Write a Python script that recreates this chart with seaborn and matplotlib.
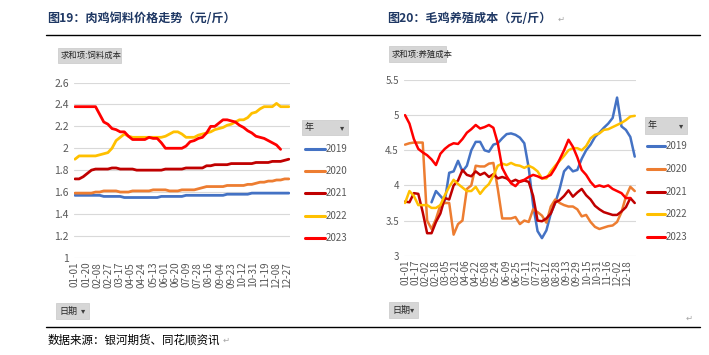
import numpy as np
import pandas as pd
import matplotlib
matplotlib.use("Agg")
import matplotlib.pyplot as plt
import seaborn as sns
from matplotlib.lines import Line2D
from matplotlib.patches import Rectangle

sns.set_theme(style="white")
plt.rcParams["font.family"] = ["Noto Sans CJK SC", "DejaVu Sans"]

# ---------------- data ----------------
years = ["2019", "2020", "2021", "2022", "2023"]
colors = ["#4472C4", "#ED7D31", "#C00000", "#FFC000", "#FF0000"]

# category axis: every calendar day (leap-year calendar, 366 categories)
dates = pd.date_range("2020-01-01", "2020-12-31").strftime("%m-%d").tolist()
# sampled days (day index in the 366 categories), weekly readings
sample_days = list(range(0, 365, 7))

nan = np.nan
# 图19 肉鸡饲料价格 (元/斤)
feed_2019 = [1.57, 1.57, 1.57, 1.57, 1.57, 1.57, 1.57, 1.56, 1.56, 1.56, 1.56, 1.56,
             1.55, 1.55, 1.55, 1.55, 1.55, 1.55, 1.55, 1.55, 1.55, 1.56, 1.56, 1.56,
             1.56, 1.56, 1.56, 1.57, 1.57, 1.57, 1.57, 1.57, 1.57, 1.57, 1.57, 1.57,
             1.57, 1.58, 1.58, 1.58, 1.58, 1.58, 1.58, 1.59, 1.59, 1.59, 1.59, 1.59,
             1.59, 1.59, 1.59, 1.59, 1.59]
feed_2020 = [1.59, 1.59, 1.59, 1.59, 1.59, 1.60, 1.60, 1.61, 1.61, 1.61, 1.61, 1.60,
             1.60, 1.60, 1.61, 1.61, 1.61, 1.61, 1.61, 1.62, 1.62, 1.62, 1.62, 1.61,
             1.61, 1.61, 1.62, 1.62, 1.62, 1.62, 1.63, 1.64, 1.65, 1.65, 1.65, 1.65,
             1.65, 1.66, 1.66, 1.66, 1.66, 1.66, 1.67, 1.67, 1.68, 1.69, 1.69, 1.70,
             1.70, 1.71, 1.71, 1.72, 1.72]
feed_2021 = [1.72, 1.72, 1.74, 1.77, 1.80, 1.81, 1.81, 1.81, 1.81, 1.82, 1.82, 1.81,
             1.81, 1.81, 1.81, 1.80, 1.80, 1.80, 1.80, 1.80, 1.80, 1.80, 1.81, 1.81,
             1.81, 1.81, 1.81, 1.82, 1.82, 1.82, 1.82, 1.82, 1.84, 1.84, 1.85, 1.85,
             1.85, 1.85, 1.86, 1.86, 1.86, 1.86, 1.86, 1.86, 1.87, 1.87, 1.87, 1.87,
             1.88, 1.88, 1.88, 1.89, 1.90]
feed_2022 = [1.90, 1.93, 1.93, 1.93, 1.93, 1.93, 1.94, 1.95, 1.96, 2.00, 2.07, 2.10,
             2.13, 2.11, 2.10, 2.10, 2.10, 2.10, 2.10, 2.10, 2.10, 2.10, 2.11, 2.13,
             2.15, 2.15, 2.13, 2.10, 2.10, 2.10, 2.12, 2.13, 2.14, 2.15, 2.17, 2.18,
             2.19, 2.21, 2.22, 2.24, 2.26, 2.26, 2.28, 2.32, 2.33, 2.36, 2.38, 2.38,
             2.38, 2.41, 2.38, 2.38, 2.38]
feed_2023 = [2.38, 2.38, 2.38, 2.38, 2.38, 2.38, 2.31, 2.24, 2.22, 2.18, 2.17, 2.15,
             2.15, 2.11, 2.08, 2.08, 2.08, 2.08, 2.10, 2.09, 2.09, 2.05, 2.00, 2.00,
             2.00, 2.00, 2.00, 2.02, 2.06, 2.07, 2.09, 2.10, 2.14, 2.20, 2.20, 2.23,
             2.26, 2.26, 2.25, 2.24, 2.21, 2.19, 2.16, 2.14, 2.11, 2.10, 2.09, 2.07,
             2.05, 2.03, 1.99, nan, nan]

# 图20 毛鸡养殖成本 (元/斤)
cost_2019 = [nan, nan, nan, nan, nan, nan, 3.76, 3.92, 3.85, 3.78, 4.18, 4.20,
             4.35, 4.20, 4.28, 4.50, 4.62, 4.62, 4.50, 4.48, 4.58, 4.60, 4.67, 4.73,
             4.74, 4.72, 4.68, 4.60, 4.25, 3.72, 3.35, 3.25, 3.36, 3.60, 3.75, 3.95,
             4.20, 4.27, 4.20, 4.22, 4.38, 4.50, 4.58, 4.69, 4.75, 4.82, 4.88, 4.96,
             5.25, 4.84, 4.79, 4.69, 4.41]
cost_2020 = [4.58, 4.60, 4.61, 4.61, 4.61, 3.50, 3.38, 3.52, 3.72, 3.75, 3.75, 3.30,
             3.45, 3.50, 3.95, 4.00, 4.28, 4.27, 4.27, 4.31, 4.32, 3.95, 3.53, 3.53,
             3.53, 3.55, 3.45, 3.50, 3.48, 3.66, 3.62, 3.57, 3.47, 3.70, 3.80, 3.75,
             3.72, 3.70, 3.70, 3.66, 3.56, 3.58, 3.48, 3.41, 3.38, 3.40, 3.42, 3.43,
             3.48, 3.62, 3.84, 3.98, 3.92]
cost_2021 = [3.77, 3.76, 3.89, 3.88, 3.62, 3.32, 3.32, 3.48, 3.60, 3.82, 3.80, 4.00,
             4.07, 4.22, 4.15, 4.13, 4.20, 4.15, 4.18, 4.12, 4.16, 4.10, 4.12, 4.10,
             4.05, 4.08, 4.05, 4.07, 4.05, 3.85, 3.50, 3.49, 3.53, 3.60, 3.76, 3.79,
             3.85, 3.93, 3.84, 3.90, 3.95, 3.86, 3.80, 3.71, 3.66, 3.62, 3.60, 3.58,
             3.58, 3.63, 3.69, 3.82, 3.75]
cost_2022 = [3.75, 3.92, 3.85, 3.72, 3.72, 3.72, 3.68, 3.68, 3.72, 3.86, 3.98, 4.08,
             4.02, 3.97, 3.92, 3.92, 3.98, 3.88, 3.96, 4.02, 4.14, 4.28, 4.31, 4.29,
             4.32, 4.29, 4.28, 4.25, 4.28, 4.25, 4.20, 4.10, 4.10, 4.20, 4.28, 4.35,
             4.42, 4.50, 4.53, 4.53, 4.50, 4.56, 4.67, 4.72, 4.74, 4.79, 4.80, 4.83,
             4.86, 4.89, 4.93, 4.98, 4.99]
cost_2023 = [5.00, 4.88, 4.66, 4.52, 4.47, 4.43, 4.37, 4.29, 4.45, 4.52, 4.57, 4.60,
             4.59, 4.66, 4.75, 4.80, 4.86, 4.81, 4.83, 4.86, 4.82, 4.60, 4.25, 4.13,
             4.03, 3.99, 4.06, 4.08, 4.12, 4.15, 4.13, 4.10, 4.12, 4.15, 4.25, 4.37,
             4.50, 4.65, 4.55, 4.40, 4.22, 4.15, 4.05, 3.98, 4.00, 3.98, 4.00, 3.95,
             3.92, 3.89, 3.82, 3.82, nan]

feed_series = [feed_2019, feed_2020, feed_2021, feed_2022, feed_2023]
cost_series = [cost_2019, cost_2020, cost_2021, cost_2022, cost_2023]

feed_yticks = [1, 1.2, 1.4, 1.6, 1.8, 2, 2.2, 2.4, 2.6]
feed_ylabels = ["1", "1.2", "1.4", "1.6", "1.8", "2", "2.2", "2.4", "2.6"]
cost_yticks = [3, 3.5, 4, 4.5, 5, 5.5]
cost_ylabels = ["3", "3.5", "4", "4.5", "5", "5.5"]

title_left = "图19：肉鸡饲料价格走势（元/斤）"
title_right = "图20：毛鸡养殖成本（元/斤）"
source_text = "数据来源：银河期货、同花顺资讯"


def long_df(series):
    rows = []
    for yr, vals in zip(years, series):
        for d, v in zip(sample_days, vals):
            rows.append({"day": d, "value": v, "year": yr})
    return pd.DataFrame(rows).dropna()


W, H = 709, 355
fig = plt.figure(figsize=(W / 100, H / 100), dpi=100)
fig.patch.set_facecolor("white")


def fx(x):
    return x / W


def fy(y):
    return 1 - y / H


TICK_C = "#595959"
GRID_C = "#D9D9D9"


def style_axis(ax, step, yticks, ylabels, ylim, fs_y):
    ax.set_xlim(-1, 366)
    ax.set_ylim(*ylim)
    ax.set_yticks(yticks)
    ax.set_yticklabels(ylabels)
    ticks = list(range(0, 366, step))
    ax.set_xticks(ticks)
    ax.set_xticklabels([dates[t] for t in ticks], rotation=90)
    ax.tick_params(axis="x", labelsize=7.2, colors=TICK_C, length=0, pad=3)
    ax.tick_params(axis="y", labelsize=fs_y, colors=TICK_C, length=0, pad=4)
    ax.grid(axis="y", color=GRID_C, linewidth=0.8)
    ax.grid(axis="x", visible=False)
    for s in ax.spines.values():
        s.set_visible(False)
    ax.set_xlabel("")
    ax.set_ylabel("")
    ax.set_facecolor("white")


# left chart
axL = fig.add_axes([fx(74.4), fy(257.7), fx(290) - fx(74.4), fy(82.6) - fy(257.7)])
sns.lineplot(data=long_df(feed_series), x="day", y="value", hue="year",
             palette=dict(zip(years, colors)), ax=axL, legend=False,
             linewidth=2.0, estimator=None, errorbar=None, sort=True)
style_axis(axL, 19, feed_yticks, feed_ylabels, (1, 2.6), 7.5)

# right chart
axR = fig.add_axes([fx(404.4), fy(255.7), fx(636) - fx(404.4), fy(80) - fy(255.7)])
sns.lineplot(data=long_df(cost_series), x="day", y="value", hue="year",
             palette=dict(zip(years, colors)), ax=axR, legend=False,
             linewidth=1.8, estimator=None, errorbar=None, sort=True)
style_axis(axR, 16, cost_yticks, cost_ylabels, (3, 5.5), 7)

# titles
TITLE_C = "#1F3864"
fig.text(fx(47), fy(18), title_left, fontsize=8.7, fontweight="bold", color=TITLE_C,
         va="center", ha="left")
fig.text(fx(387), fy(18), title_right, fontsize=8.7, fontweight="bold", color=TITLE_C,
         va="center", ha="left")
fig.text(fx(558), fy(19), "↵", fontsize=6, color="#A6A6A6", va="center", ha="left",
         family=["DejaVu Sans"])

# rule lines
fig.add_artist(Line2D([fx(46), fx(700)], [fy(35), fy(35)], color="black", lw=1.0))
fig.add_artist(Line2D([fx(46), fx(700)], [fy(327), fy(327)], color="black", lw=1.0))

# footer
fig.text(fx(48), fy(340), source_text, fontsize=8.3, color="black", va="center", ha="left")
fig.text(fx(223), fy(340), "↵", fontsize=6, color="#A6A6A6", va="center", ha="left",
         family=["DejaVu Sans"])
fig.text(fx(686), fy(318), "↵", fontsize=6, color="#A6A6A6", va="center", ha="left",
         family=["DejaVu Sans"])


def button(x0, y0, x1, y1, text, fs=6.5, arrow=False):
    fig.add_artist(Rectangle((fx(x0), fy(y1)), fx(x1) - fx(x0), fy(y0) - fy(y1),
                             transform=fig.transFigure, facecolor="#D6D6D6",
                             edgecolor="#C8C8C8", lw=0.5))
    fig.text(fx(x0 + 3), fy((y0 + y1) / 2), text, fontsize=fs, color="#262626",
             va="center", ha="left")
    if arrow:
        fig.text(fx(x1 - 4), fy((y0 + y1) / 2), "▾", fontsize=6, color="#404040",
                 va="center", ha="right", family=["DejaVu Sans"])


button(58, 48, 121, 63, "求和项:饲料成本", fs=6)
button(389, 46, 446, 62, "求和项:养殖成本", fs=6)
button(56, 303, 89, 319, "日期", fs=6.5, arrow=True)
button(389, 302, 418, 318, "日期", fs=6.5, arrow=True)
button(302, 120, 348, 135, "年", fs=6.5, arrow=True)
button(645, 117, 687, 134, "年", fs=6.5, arrow=True)

# legends (manual, Excel pivot style)
legL_y = [149, 171, 193, 216, 238]
legR_y = [146, 169, 192, 214, 237]
for yr, c, yl, yr_ in zip(years, colors, legL_y, legR_y):
    fig.add_artist(Line2D([fx(305), fx(325)], [fy(yl), fy(yl)], color=c, lw=2.2))
    fig.text(fx(326), fy(yl), yr, fontsize=7, color=TICK_C, va="center", ha="left")
    fig.add_artist(Line2D([fx(647), fx(665)], [fy(yr_), fy(yr_)], color=c, lw=2.2))
    fig.text(fx(666), fy(yr_), yr, fontsize=7, color=TICK_C, va="center", ha="left")

fig.savefig("out.png", dpi=100, facecolor="white")
